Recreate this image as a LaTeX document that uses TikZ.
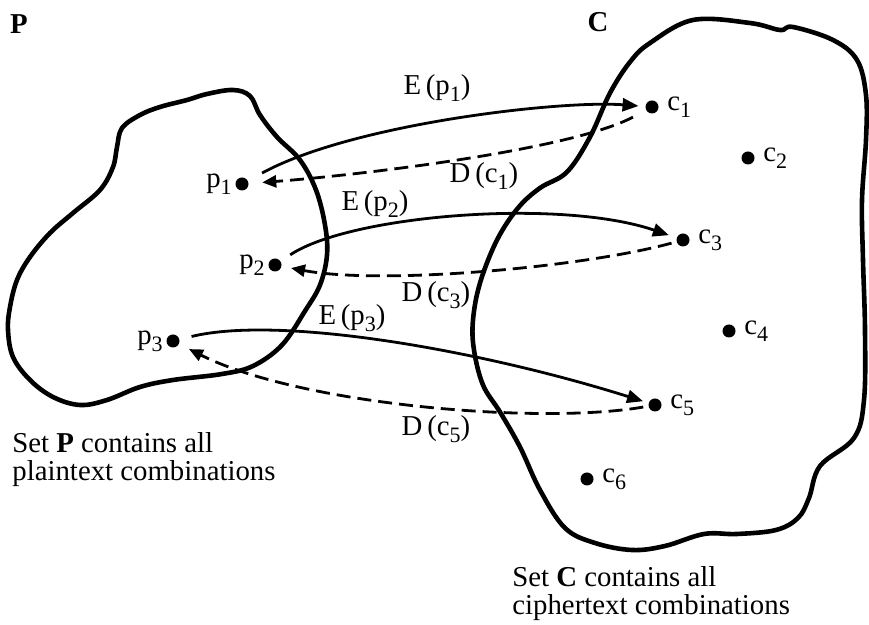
\documentclass[tikz,border=0pt]{standalone}
\usepackage{fontspec}
\setmainfont{Liberation Serif}
\usepackage{tikz}
\usetikzlibrary{arrows.meta, positioning}

\newcommand{\lsub}[1]{\raisebox{-3.6pt}{\fontsize{11}{11}\selectfont #1}}

\begin{document}
\begin{tikzpicture}[
    x=0.5pt, y=-0.5pt,
    every node/.style={font=\fontsize{14.4}{14}\selectfont, inner sep=0pt},
    settitle/.style={font=\fontsize{14.4}{14}\selectfont\bfseries},
    blob/.style={line width=2.3pt, line join=round},
    dot/.style={circle, fill=black, minimum size=6.5pt, inner sep=0pt},
    enc/.style={-{Triangle[length=8pt, width=6.5pt]}, line width=1.4pt},
    dec/.style={-{Triangle[length=7pt, width=6pt]}, line width=1.4pt, dash pattern=on 7pt off 3.5pt}
]
    \useasboundingbox (0,0) rectangle (869,625);

    % the two sets
    \draw[blob] plot[smooth cycle, tension=0.6] coordinates {
        (233,90) (250,96) (260,115) (277,137) (300,160) (316,190) (325,225) (327,255)
        (320,285) (305,311) (282,345) (253,366) (222,374) (173,380) (140,387) (107,400)
        (80,405) (53,397) (30,380) (13,357) (8,330) (10,307) (17,280) (30,257) (50,233)
        (73,213) (100,190) (113,167) (117,147) (122,128) (140,115) (160,107) (187,100) (207,94)};
    \draw[blob] plot[smooth cycle, tension=0.6] coordinates {
        (650,43) (693,20) (750,23) (780,30) (793,27) (833,40) (857,60) (866,95) (866,140)
        (862,200) (863,260) (865,330) (864,400) (854,438) (820,466) (809,498) (798,518)
        (776,530) (737,534) (704,534) (665,546) (632,550) (595,543) (565,528) (540,490)
        (520,447) (500,412) (483,385) (474,350) (473,320) (480,283) (497,240) (518,208)
        (540,188) (567,172) (590,137) (610,93) (630,62)};

    \node[settitle] (Ptitle) at (19,24) {P};
    \node[settitle] (Ctitle) at (598,22) {C};

    \node[dot] (p1) at (242,184) {};
    \node[dot] (p2) at (275,265) {};
    \node[dot] (p3) at (173,341) {};
    \node[left=1.5pt of p1] (p1lab) {p\lsub{1}};
    \node[left=1.5pt of p2] (p2lab) {p\lsub{2}};
    \node[left=1.5pt of p3] (p3lab) {p\lsub{3}};

    \node[dot] (c1) at (652,107) {};
    \node[dot] (c2) at (748,158) {};
    \node[dot] (c3) at (683,240) {};
    \node[dot] (c4) at (729,331) {};
    \node[dot] (c5) at (655,405) {};
    \node[dot] (c6) at (587,479) {};
    \node[right=4pt of c1] (c1lab) {c\lsub{1}};
    \node[right=4pt of c2] (c2lab) {c\lsub{2}};
    \node[right=4pt of c3] (c3lab) {c\lsub{3}};
    \node[right=4pt of c4] (c4lab) {c\lsub{4}};
    \node[right=4pt of c5] (c5lab) {c\lsub{5}};
    \node[right=4pt of c6] (c6lab) {c\lsub{6}};

    % encryption and decryption
    \draw[enc, shorten <=8pt, shorten >=3.3pt] (p1) .. controls (352,124) and (560,100) .. (c1);
    \draw[dec, shorten <=7.3pt, shorten >=6.7pt] (c1) .. controls (571,150) and (360,175) .. (p1);
    \draw[enc, shorten <=5.7pt, shorten >=4pt] (p2) .. controls (350,215) and (560,198) .. (c3);
    \draw[dec, shorten <=2.5pt, shorten >=4.7pt] (c3) .. controls (580,268) and (380,285) .. (p2);
    \draw[enc, shorten <=6.1pt, shorten >=2.8pt] (p3) .. controls (280,315) and (480,350) .. (c5);
    \draw[dec, shorten <=2.5pt, shorten >=5.5pt] (c5) .. controls (540,425) and (300,405) .. (p3);

    \node (e1lab) at (437,88) {E\,(p\lsub{1})};
    \node (d1lab) at (484,176) {D\,(c\lsub{1})};
    \node (e2lab) at (375,204) {E\,(p\lsub{2})};
    \node (d3lab) at (436,295) {D\,(c\lsub{3})};
    \node (e3lab) at (352,318) {E\,(p\lsub{3})};
    \node (d5lab) at (436,429) {D\,(c\lsub{5})};

    \node[anchor=north west, align=left] (setP) at (12,432) {Set \textbf{P} contains all\\plaintext combinations};
    \node[anchor=north west, align=left] (setC) at (512,566) {Set \textbf{C} contains all\\ciphertext combinations};
\end{tikzpicture}
\end{document}
